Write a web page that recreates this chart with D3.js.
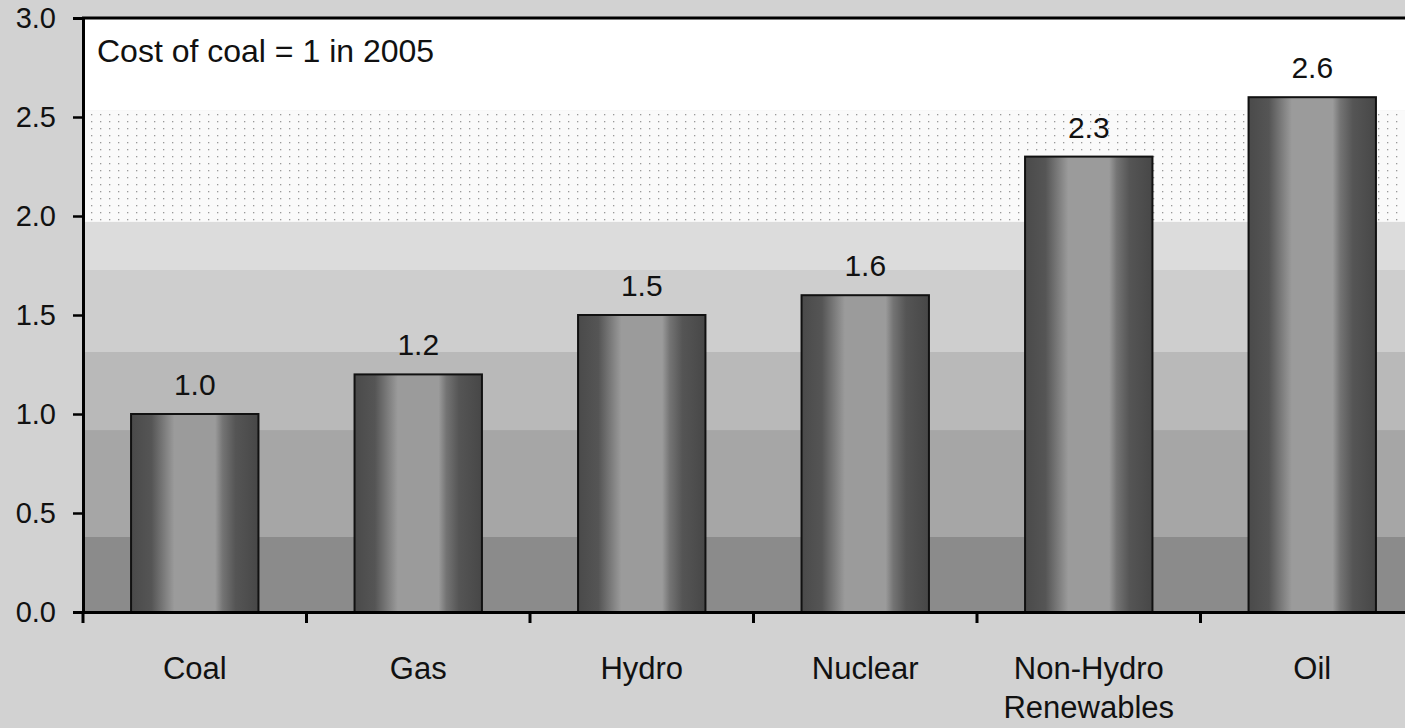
<!DOCTYPE html>
<html>
<head>
<meta charset="utf-8">
<script src="https://cdn.jsdelivr.net/npm/d3@7"></script>
<style>
  body { margin: 0; background: #d2d2d2; }
  svg { display: block; }
  text { font-family: "Liberation Sans", Arial, sans-serif; fill: #111; }
</style>
</head>
<body>
<div id="chart-area"></div>
<script>
// DATA
var categories = ["Coal", "Gas", "Hydro", "Nuclear", "Non-Hydro\nRenewables", "Oil"];
var costs = [1.0, 1.2, 1.5, 1.6, 2.3, 2.6];
var yTicks = [0, 0.5, 1.0, 1.5, 2.0, 2.5, 3.0];
var note = "Cost of coal = 1 in 2005";

// background shading bands, in value units (top of each band)
var bandTops = [3.0, 2.535, 1.97, 1.727, 1.313, 0.919, 0.379];
var bandFills = ["#ffffff", "#f1f1f1", "#dcdcdc", "#cecece", "#b9b9b9", "#a6a6a6", "#8b8b8b"];

var W = 1405, H = 728;
var margin = { left: 83, top: 18, right: 0, bottom: 116 };

var svg = d3.select("#chart-area").append("svg")
    .attr("width", W)
    .attr("height", H);

// Scales
var x = d3.scaleBand()
    .domain(categories)
    .range([margin.left, margin.left + 6 * 223.5])
    .paddingInner(0.43)
    .paddingOuter(0.215);

var y = d3.scaleLinear()
    .domain([0, 3])
    .range([612, margin.top]);

// gradient for the cylinder-looking bars
var defs = svg.append("defs");
var grad = defs.append("linearGradient")
    .attr("id", "barGrad")
    .attr("x1", "0%").attr("x2", "100%");
[[0, "#4a4a4a"], [0.16, "#555"], [0.24, "#747474"], [0.34, "#9b9b9b"],
 [0.66, "#9b9b9b"], [0.72, "#747474"], [0.82, "#555"], [1, "#474747"]]
    .forEach(function(s) {
        grad.append("stop").attr("offset", s[0]).attr("stop-color", s[1]);
    });

// dotted texture for the pale band
var pat = defs.append("pattern")
    .attr("id", "dots")
    .attr("width", 9).attr("height", 7)
    .attr("patternUnits", "userSpaceOnUse");
pat.append("rect").attr("width", 9).attr("height", 7).attr("fill", "#fafafa");
pat.append("rect").attr("x", 1).attr("y", 2).attr("width", 1.3).attr("height", 1.3).attr("fill", "#999");

// plot background bands
svg.selectAll(".band")
    .data(bandTops)
    .enter().append("rect")
    .attr("class", "band")
    .attr("x", margin.left)
    .attr("width", W - margin.left)
    .attr("y", d => y(d))
    .attr("height", (d, i) => (i < bandTops.length - 1 ? y(bandTops[i + 1]) : y(0)) - y(d))
    .attr("fill", (d, i) => i === 1 ? "url(#dots)" : bandFills[i]);

// Bars
var g = svg.append("g");
g.selectAll(".bar")
    .data(costs)
    .enter().append("rect")
    .attr("class", "bar")
    .attr("x", (d, i) => x(categories[i]))
    .attr("width", x.bandwidth())
    .attr("y", d => y(d))
    .attr("height", d => y(0) - y(d))
    .attr("fill", "url(#barGrad)")
    .attr("stroke", "#111")
    .attr("stroke-width", 2);

// value labels
g.selectAll(".val")
    .data(costs)
    .enter().append("text")
    .attr("class", "val")
    .attr("x", (d, i) => x(categories[i]) + x.bandwidth() / 2)
    .attr("y", d => y(d) - 19)
    .attr("text-anchor", "middle")
    .style("font-size", "30px")
    .text(d => d.toFixed(1));

// Axes
var yAxis = svg.append("g")
    .attr("transform", "translate(" + margin.left + ",0)")
    .call(d3.axisLeft(y).tickValues(yTicks).tickFormat(d3.format(".1f")).tickSize(10).tickPadding(17));
yAxis.select(".domain").attr("stroke", "#000").attr("stroke-width", 3);
yAxis.selectAll(".tick line").attr("stroke", "#000").attr("stroke-width", 2.5);
yAxis.selectAll(".tick text")
    .style("font-size", "29px")
    .style("font-family", "'Liberation Sans', Arial, sans-serif")
    .attr("fill", "#111");

var xAxis = svg.append("g")
    .attr("transform", "translate(0," + y(0) + ")")
    .call(d3.axisBottom(x).tickSize(0).tickFormat(""));
xAxis.select(".domain").attr("stroke", "#000").attr("stroke-width", 3);

// category boundary ticks
var step = x.step();
svg.selectAll(".xtick")
    .data(d3.range(categories.length + 1))
    .enter().append("line")
    .attr("class", "xtick")
    .attr("x1", i => margin.left + i * step)
    .attr("x2", i => margin.left + i * step)
    .attr("y1", y(0))
    .attr("y2", y(0) + 11)
    .attr("stroke", "#000")
    .attr("stroke-width", 3);

// top border
svg.append("line")
    .attr("x1", margin.left - 1).attr("x2", W)
    .attr("y1", y(3)).attr("y2", y(3))
    .attr("stroke", "#000").attr("stroke-width", 3);

// category labels
var catLabels = svg.selectAll(".cat")
    .data(categories)
    .enter().append("text")
    .attr("class", "cat")
    .attr("text-anchor", "middle")
    .attr("transform", d => "translate(" + (x(d) + x.bandwidth() / 2) + ",679)")
    .style("font-size", "31px");
catLabels.each(function(d) {
    var lines = d.split("\n");
    var t = d3.select(this);
    lines.forEach(function(l, i) {
        t.append("tspan").attr("x", 0).attr("dy", i === 0 ? 0 : 39).text(l);
    });
});

// note
svg.append("text")
    .attr("x", 97)
    .attr("y", 62)
    .style("font-size", "32px")
    .text(note);
</script>
</body>
</html>
